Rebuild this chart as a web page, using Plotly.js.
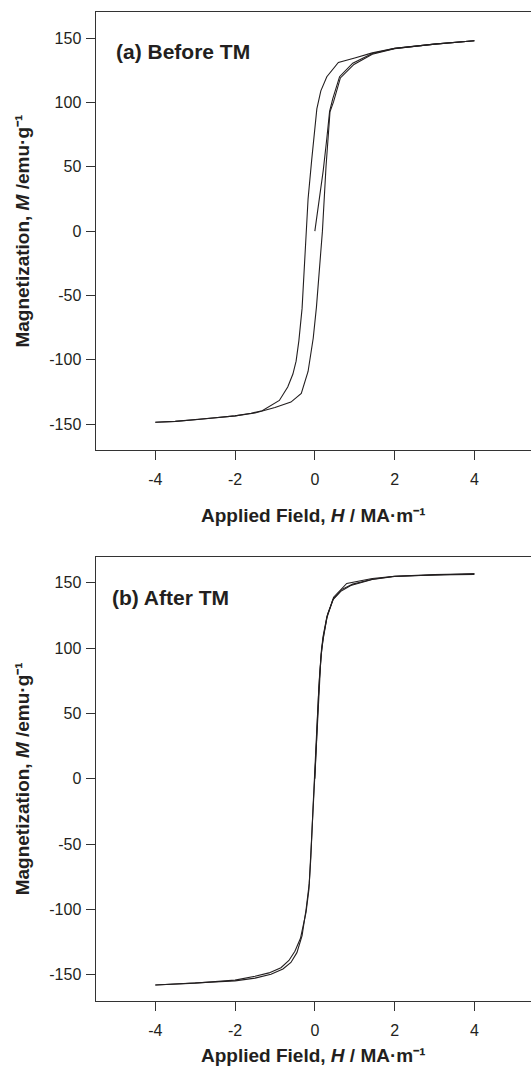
<!DOCTYPE html>
<html>
<head>
<meta charset="utf-8">
<script src="https://cdn.plot.ly/plotly-3.0.1.min.js"></script>
<style>
html,body{margin:0;padding:0;background:#fff;overflow:hidden;}
#chart{width:531px;height:1066px;}
</style>
</head>
<body>
<div id="chart"></div>
<script>
// ---- data: (a) Before TM ----
var a_initX = [0, 0.10, 0.21, 0.30, 0.37, 0.45, 0.62, 0.95, 1.44, 2, 3, 4];
var a_initY = [0, 22, 47, 72, 93, 103, 120, 130.5, 138, 142, 145.3, 147.9];
var a_descX = [4, 3, 2, 1.44, 1.0, 0.59, 0.30, 0.15, 0.05, 0, -0.08, -0.17, -0.21, -0.27, -0.32, -0.40, -0.47, -0.55, -0.68, -0.89, -1.32, -1.6, -2, -2.5, -3, -3.5, -4];
var a_descY = [147.9, 145.3, 142, 138.5, 134.5, 131, 120, 109, 95, 81, 55, 25, 0, -38, -60, -85, -101, -111, -121, -131.5, -139.5, -141.5, -143.5, -145, -146.5, -147.8, -148.5];
var a_ascX = [-4, -3.5, -3, -2.5, -2, -1.5, -1.0, -0.6, -0.34, -0.17, -0.04, 0.04, 0.08, 0.13, 0.19, 0.28, 0.38, 0.47, 0.64, 0.98, 1.44, 2, 3, 4];
var a_ascY = [-148.5, -147.8, -146.5, -145, -143.5, -141.3, -137, -132.8, -126, -109, -83, -59, -41, -20, 0, 50, 92.7, 100.6, 119, 129.5, 137.4, 141.8, 145.3, 147.9];

// ---- data: (b) After TM ----
var b_initX = [0, 0.05, 0.10, 0.16, 0.22, 0.32, 0.47, 0.68, 0.95, 1.44, 2, 3, 4];
var b_initY = [0, 35, 70, 95, 110, 126, 138, 145, 149, 152.8, 155, 156.3, 157];
var b_descX = [4, 3, 2, 1.44, 1.0, 0.80, 0.47, 0.30, 0.17, 0.12, 0.06, 0, -0.05, -0.10, -0.15, -0.22, -0.36, -0.50, -0.65, -0.85, -1.15, -1.5, -2, -3, -4];
var b_descY = [157, 156, 155, 153.3, 151, 149.5, 139, 123, 100, 80, 45, 10, -25, -60, -85, -102, -122, -132, -139, -144.5, -148.5, -151, -154, -156.3, -157.7];
var b_ascX = [-4, -3, -2, -1.5, -1.1, -0.8, -0.6, -0.45, -0.32, -0.22, -0.14, -0.08, -0.02, 0.04, 0.10, 0.15, 0.20, 0.30, 0.45, 0.65, 0.90, 1.44, 2, 3, 4];
var b_ascY = [-157.7, -156.3, -154.6, -152.5, -149.5, -145.5, -140.5, -133, -120, -100, -80, -45, -10, 25, 65, 92, 108, 124, 137, 143.5, 148, 152.5, 154.8, 156, 156.5];

// ---- tick labels ----
var xTickVals = [-4, -2, 0, 2, 4];
var xTickText = ["-4", "-2", "0", "2", "4"];
var yTickVals = [-150, -100, -50, 0, 50, 100, 150];
var yTickText = ["-150", "-100", "-50", "0", "50", "100", "150"];

var panelLabels = ["(a) Before TM", "(b) After TM"];

var FONT = "'Liberation Sans', Arial, Helvetica, sans-serif";
var INK = "#231f20";
var lineStyle = {color: INK, width: 1.1};

function tr(x, y, xa, ya) {
  return {x: x, y: y, xaxis: xa, yaxis: ya, mode: "lines", line: lineStyle,
          hoverinfo: "skip", showlegend: false};
}

var data = [
  tr(a_initX, a_initY, "x", "y"),
  tr(a_descX, a_descY, "x", "y"),
  tr(a_ascX, a_ascY, "x", "y"),
  tr(b_initX, b_initY, "x2", "y2"),
  tr(b_descX, b_descY, "x2", "y2"),
  tr(b_ascX, b_ascY, "x2", "y2")
];

var xTitle = "Applied Field, <i>H</i> / MA·m⁻¹";
var yTitle = "Magnetization, <i>M</i> /emu·g⁻¹";

function xaxis(anchor) {
  return {
    anchor: anchor,
    domain: [95.5 / 531, 1],
    range: [-5.5, 5.42],
    showgrid: false, zeroline: false,
    showline: true, linecolor: "#333", linewidth: 1, mirror: true,
    ticks: "outside", ticklen: 9, tickwidth: 1, tickcolor: "#333",
    ticklabelstandoff: 6,
    tickvals: xTickVals, ticktext: xTickText,
    tickfont: {family: FONT, size: 16, color: INK},
    title: {text: xTitle, font: {family: FONT, size: 19, color: INK, weight: "bold"}, standoff: 21},
    automargin: false, fixedrange: true
  };
}
function yaxis(anchor, dom) {
  return {
    anchor: anchor,
    domain: dom,
    range: [-170, 170],
    showgrid: false, zeroline: false,
    showline: true, linecolor: "#333", linewidth: 1, mirror: false,
    ticks: "outside", ticklen: 9, tickwidth: 1, tickcolor: "#333",
    ticklabelstandoff: 1,
    tickvals: yTickVals, ticktext: yTickText,
    tickfont: {family: FONT, size: 16, color: INK},
    title: {text: yTitle, font: {family: FONT, size: 19, color: INK, weight: "bold"}, standoff: 14},
    automargin: false, fixedrange: true
  };
}

var layout = {
  width: 531, height: 1066,
  margin: {l: 0, r: 0, t: 0, b: 0},
  paper_bgcolor: "#fff", plot_bgcolor: "#fff",
  font: {family: FONT, color: INK},
  xaxis: xaxis("y"),
  yaxis: yaxis("x", [1 - 450 / 1066, 1 - 12.3 / 1066]),
  xaxis2: xaxis("y2"),
  yaxis2: yaxis("x2", [1 - 1001 / 1066, 1 - 556.7 / 1066]),
  annotations: [
    {text: panelLabels[0], xref: "paper", yref: "paper",
     x: 114 / 531, y: 1 - 51 / 1066, xanchor: "left", yanchor: "middle",
     showarrow: false, font: {family: FONT, size: 21, color: INK, weight: "bold"}},
    {text: panelLabels[1], xref: "paper", yref: "paper",
     x: 110 / 531, y: 1 - 597.5 / 1066, xanchor: "left", yanchor: "middle",
     showarrow: false, font: {family: FONT, size: 21, color: INK, weight: "bold"}}
  ]
};

Plotly.newPlot("chart", data, layout, {staticPlot: true, displayModeBar: false});
</script>
</body>
</html>
